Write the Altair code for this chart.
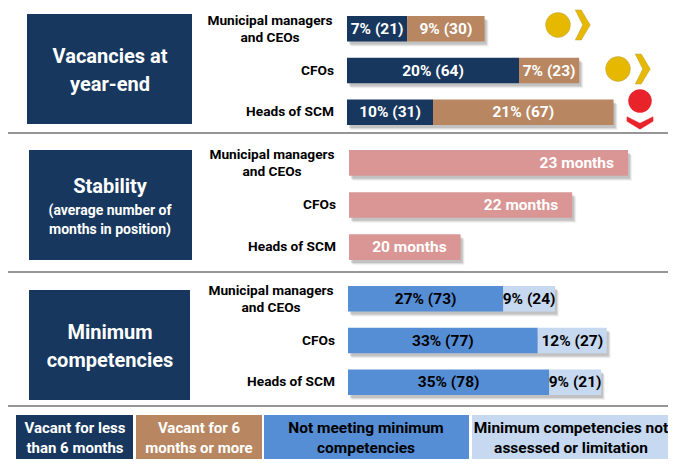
import altair as alt
import pandas as pd

FONT = "Roboto"
NAVY, TAN, PINK, BLUE, LIGHT = "#17375e", "#b88761", "#d99694", "#558ed5", "#c6d9f1"
YELLOW, RED, GREY = "#e6b800", "#e8242a", "#969696"

roles = ["Municipal managers\nand CEOs", "CFOs", "Heads of SCM"]

vac_short_pct = [7, 20, 10]
vac_short_n = [21, 64, 31]
vac_long_pct = [9, 7, 21]
vac_long_n = [30, 23, 67]

months = [23, 22, 20]
months_base = 18

comp_not_pct = [27, 33, 35]
comp_not_n = [73, 77, 78]
comp_na_pct = [9, 12, 9]
comp_na_n = [24, 27, 21]

W, H = 660, 451


def X(px):
    return alt.value(px - 8)


def Y(px):
    return alt.value(px - 8)


def box(x0, x1, y0, y1, color):
    return alt.Chart(pd.DataFrame({"a": [0]})).mark_rect(color=color).encode(
        x=X(x0), x2=X(x1), y=Y(y0), y2=Y(y1))


def label(lines, cx, y, size, color="white", align="center"):
    df = pd.DataFrame({"t": lines, "i": range(len(lines))})
    return [alt.Chart(df[df.i == i]).mark_text(
        font=FONT, fontWeight="bold", fontSize=s, color=color, align=align, baseline="middle"
    ).encode(x=X(cx), y=Y(yy), text="t:N") for i, (yy, s) in enumerate(zip(y, size))]


def rule(y):
    return alt.Chart(pd.DataFrame({"a": [0]})).mark_rule(color=GREY, strokeWidth=2).encode(
        x=X(8), x2=X(668), y=Y(y))


def section(segments, x0, per_unit, y0, y1, pad, domain_start=0, label_color="white",
            end_label=False):
    """segments: list of (values, texts, colour)"""
    rows = []
    for s, (vals, texts, color) in enumerate(segments):
        for r, v in enumerate(vals):
            st = domain_start + sum(segments[k][0][r] for k in range(s))
            rows.append(dict(role=roles[r], start=st, end=st + v,
                             text=texts[r], color=color, seg=s))
    df = pd.DataFrame(rows)
    xs = alt.Scale(domain=[domain_start, domain_start + 10],
                   range=[x0 - 8, x0 - 8 + per_unit * 10])
    ys = alt.Scale(type="band", domain=roles, range=[y0 - 8, y1 - 8],
                   paddingInner=pad, paddingOuter=0)
    xenc = alt.X("start:Q", scale=xs, axis=None)
    yenc = alt.Y("role:N", scale=ys, axis=None, sort=roles)
    base = alt.Chart(df)
    out = []
    tot = df.groupby("role", as_index=False).agg(start=("start", "min"), end=("end", "max"))
    for dx, dy, op in [(4, 5, 0.08), (3, 4, 0.14), (2, 3, 0.2)]:
        out.append(alt.Chart(tot).mark_bar(
            color="#5a5a5a", opacity=op, xOffset=dx, x2Offset=dx, yOffset=dy, y2Offset=dy
        ).encode(x=xenc, x2="end:Q", y=yenc))
    out.append(base.mark_bar(opacity=1).encode(
        x=xenc, x2="end:Q", y=yenc, color=alt.Color("color:N", scale=None)))
    if end_label:
        out.append(base.mark_text(font=FONT, fontWeight="bold", fontSize=15.5, color=label_color,
                                  align="right", dx=-14, baseline="middle").encode(
            x=alt.X("end:Q", scale=xs, axis=None), y=yenc, text="text:N"))
    else:
        out.append(base.transform_calculate(mid="(datum.start+datum.end)/2").mark_text(
            font=FONT, fontWeight="bold", fontSize=15.5, color=label_color, align="center",
            baseline="middle"
        ).encode(x=alt.X("mid:Q", scale=xs, axis=None), y=yenc, text="text:N"))
    # row labels
    names = pd.DataFrame({"role": roles})
    out.append(alt.Chart(names.iloc[:1]).mark_text(
        font=FONT, fontWeight="bold", fontSize=13.7, color="black", align="center",
        lineBreak="\n", lineHeight=17, baseline="middle", dy=-8
    ).encode(x=X(x0 - 77), y=yenc, text="role:N"))
    out.append(alt.Chart(names.iloc[1:]).mark_text(
        font=FONT, fontWeight="bold", fontSize=13.7, color="black", align="right", baseline="middle"
    ).encode(x=X(x0 - 13), y=yenc, text="role:N"))
    return out


def fmt(p, n):
    return [f"{a}% ({b})" for a, b in zip(p, n)]


CHEV_R = "M-0.45,-1 L-0.05,-1 L0.55,0 L-0.05,1 L-0.45,1 L0.05,0 Z"
CHEV_D = "M-1,-0.4 L-1,-0.05 L0,0.55 L1,-0.05 L1,-0.4 L0,0.1 Z"


def icon(x, y, shape, size, color, stroke="#b9a34a"):
    return alt.Chart(pd.DataFrame({"a": [0]})).mark_point(
        shape=shape, size=size, filled=True, opacity=1, color=color, stroke=stroke, strokeWidth=0.5
    ).encode(x=X(x), y=Y(y))


layers = []
layers += [rule(133), rule(272), rule(406)]

layers += [box(27, 192, 14, 124, NAVY), box(29, 192, 150, 260, NAVY), box(29, 190, 290, 400, NAVY)]
layers += label(["Vacancies at", "year-end"], 110, [57, 85], [20, 20])
layers += label(["Stability", "(average number of", "months in position)"], 110,
                [187, 211, 230], [20, 14, 14])
layers += label(["Minimum", "competencies"], 110, [333, 361], [20, 20])

layers += section([(vac_short_pct, fmt(vac_short_pct, vac_short_n), NAVY),
                   (vac_long_pct, fmt(vac_long_pct, vac_long_n), TAN)],
                  347, 8.6, 16, 125, 0.39)
layers += section([([m - months_base for m in months], [f"{m} months" for m in months], PINK)],
                  349, 55.8, 150, 260, 0.39, domain_start=months_base, end_label=True)
layers += section([(comp_not_pct, fmt(comp_not_pct, comp_not_n), BLUE),
                   (comp_na_pct, fmt(comp_na_pct, comp_na_n), LIGHT)],
                  348, 5.75, 286, 395, 0.39, label_color="black")

layers += [icon(558, 25, "circle", 615, YELLOW), icon(582, 25, CHEV_R, 900, YELLOW),
           icon(618, 69, "circle", 615, YELLOW), icon(642, 69, CHEV_R, 900, YELLOW),
           icon(640, 101, "circle", 530, RED, stroke=RED), icon(640, 122, CHEV_D, 680, RED, stroke=RED)]

layers += [box(16, 133, 415, 459, NAVY), box(136, 262, 415, 459, TAN),
           box(264, 469, 415, 459, BLUE), box(472, 668, 415, 459, LIGHT)]
layers += label(["Vacant for less", "than 6 months"], 75, [428, 448], [15, 15])
layers += label(["Vacant for 6", "months or more"], 199, [428, 448], [15, 15])
layers += label(["Not meeting minimum", "competencies"], 366, [428, 448], [15.5, 15.5], color="black")
layers += label(["Minimum competencies not", "assessed or limitation"], 571, [428, 448], [15.5, 15.5],
                color="black")

chart = alt.layer(*layers).resolve_scale(x="independent", y="independent").properties(
    width=W, height=H, padding=0, autosize=alt.AutoSizeParams(type="none"),
    background="white"
).configure_view(stroke=None)

chart.save("out.html", embed_options={"renderer": "svg", "actions": False})
